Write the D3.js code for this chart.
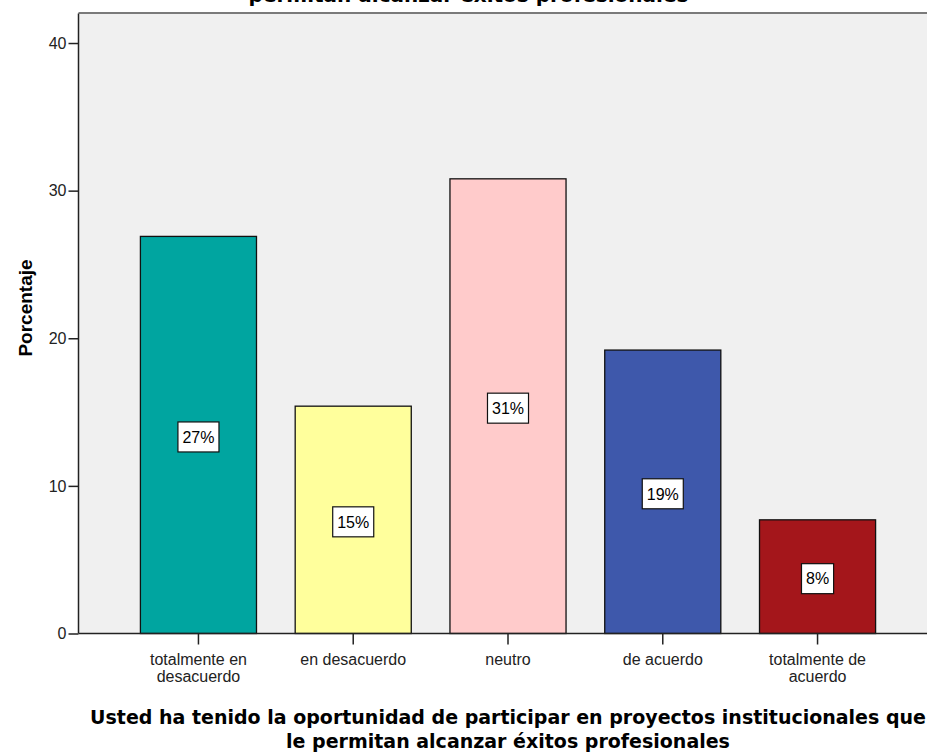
<!DOCTYPE html>
<html>
<head>
<meta charset="utf-8">
<script src="https://cdn.jsdelivr.net/npm/d3@7"></script>
<style>
  html, body { margin: 0; padding: 0; background: #ffffff; }
  svg { display: block; }
</style>
</head>
<body>
<div id="chart"></div>
<script>
// Response categories (x axis)
const categories = [
  "totalmente en desacuerdo",
  "en desacuerdo",
  "neutro",
  "de acuerdo",
  "totalmente de acuerdo"
];
// Category labels split onto lines as printed under each bar
const categoryLines = [
  ["totalmente en", "desacuerdo"],
  ["en desacuerdo"],
  ["neutro"],
  ["de acuerdo"],
  ["totalmente de", "acuerdo"]
];
// Percentage of respondents per category
const percentages = [26.9, 15.4, 30.8, 19.2, 7.7];
// Bar fill colours
const barColors = ["#00a5a0", "#ffff9c", "#ffcbcb", "#3e58ab", "#a4161b"];
// Y axis ticks
const yTicks = [0, 10, 20, 30, 40];

const titleText = "permitan alcanzar éxitos profesionales";
const xTitleLines = [
  "Usted ha tenido la oportunidad de participar en proyectos institucionales que",
  "le permitan alcanzar éxitos profesionales"
];
const yTitle = "Porcentaje";

const W = 927, H = 753;
const plot = { left: 78.5, right: 937.5, top: 13.5, bottom: 633.5 };

const svg = d3.select("#chart").append("svg")
  .attr("width", W).attr("height", H)
  .attr("viewBox", `0 0 ${W} ${H}`);

const x = d3.scaleBand()
  .domain(categories)
  .range([plot.left, plot.right])
  .paddingInner(0.25)
  .paddingOuter(0.4);

const y = d3.scaleLinear()
  .domain([0, 42])
  .range([plot.bottom, plot.top]);

// Plot background
svg.append("rect")
  .attr("x", plot.left).attr("y", plot.top)
  .attr("width", plot.right - plot.left)
  .attr("height", plot.bottom - plot.top)
  .attr("fill", "#f0f0f0");

// Frame top edge
svg.append("line")
  .attr("x1", plot.left).attr("x2", plot.right)
  .attr("y1", plot.top - 0.5).attr("y2", plot.top - 0.5)
  .attr("stroke", "#7a7a7a").attr("stroke-width", 2);

// Bars
svg.append("g").selectAll("rect")
  .data(categories)
  .join("rect")
  .attr("x", d => x(d))
  .attr("y", (d, i) => y(percentages[i]))
  .attr("width", x.bandwidth())
  .attr("height", (d, i) => y(0) - y(percentages[i]))
  .attr("fill", (d, i) => barColors[i])
  .attr("stroke", "#111")
  .attr("stroke-width", 1.3);

// Value labels in boxes
const fmt = v => d3.format(".0f")(v) + "%";
const labels = svg.append("g")
  .attr("font-family", "'Liberation Sans', Arial, sans-serif")
  .attr("font-size", 16)
  .selectAll("g")
  .data(categories)
  .join("g")
  .attr("transform", (d, i) => {
    const cx = x(d) + x.bandwidth() / 2;
    const cy = (y(percentages[i]) + y(0)) / 2 + 2;
    return `translate(${cx},${cy})`;
  });

labels.each(function(d, i) {
  const g = d3.select(this);
  const t = g.append("text")
    .attr("text-anchor", "middle")
    .attr("dy", "0.36em")
    .attr("fill", "#000")
    .text(fmt(percentages[i]));
  const w = t.node().getComputedTextLength() + 9;
  const h = 30;
  g.insert("rect", "text")
    .attr("x", -w / 2).attr("y", -h / 2)
    .attr("width", w).attr("height", h)
    .attr("fill", "#fff")
    .attr("stroke", "#111")
    .attr("stroke-width", 1.2);
});

// Y axis
const yAxis = svg.append("g")
  .attr("transform", `translate(${plot.left},0)`)
  .call(d3.axisLeft(y).tickValues(yTicks).tickSize(10).tickPadding(2).tickFormat(d3.format("d")));
yAxis.select(".domain").attr("stroke", "#222").attr("stroke-width", 1.5)
  .attr("d", `M0,${plot.top}V${plot.bottom}`);
yAxis.selectAll(".tick line").attr("stroke", "#222").attr("stroke-width", 1.5);
yAxis.selectAll(".tick text")
  .attr("font-family", "'Liberation Sans', Arial, sans-serif")
  .attr("font-size", 16).attr("fill", "#222");

// X axis
const xAxis = svg.append("g")
  .attr("transform", `translate(0,${plot.bottom})`)
  .call(d3.axisBottom(x).tickSize(11).tickFormat(""));
xAxis.select(".domain").attr("stroke", "#222").attr("stroke-width", 1.5)
  .attr("d", `M${plot.left},0H${plot.right}`);
xAxis.selectAll(".tick line").attr("stroke", "#222").attr("stroke-width", 1.5);

// Category labels
svg.append("g")
  .attr("font-family", "'Liberation Sans', Arial, sans-serif")
  .attr("font-size", 16)
  .attr("fill", "#222")
  .attr("text-anchor", "middle")
  .selectAll("text")
  .data(categories)
  .join("text")
  .attr("x", d => x(d) + x.bandwidth() / 2)
  .attr("y", plot.bottom + 31.5)
  .each(function(d, i) {
    d3.select(this).selectAll("tspan")
      .data(categoryLines[i])
      .join("tspan")
      .attr("x", x(d) + x.bandwidth() / 2)
      .attr("dy", (l, j) => j === 0 ? 0 : 17)
      .text(l => l);
  });

// X axis title
svg.append("text")
  .attr("font-family", "'DejaVu Sans', Verdana, sans-serif")
  .attr("font-weight", "bold")
  .attr("font-size", 19)
  .attr("fill", "#000")
  .attr("text-anchor", "middle")
  .selectAll("tspan")
  .data(xTitleLines)
  .join("tspan")
  .attr("x", (plot.left + plot.right) / 2)
  .attr("y", (d, i) => 723.5 + i * 24.5)
  .text(d => d);

// Y axis title
svg.append("text")
  .attr("font-family", "'Liberation Sans', Arial, sans-serif")
  .attr("font-weight", "bold")
  .attr("font-size", 19)
  .attr("fill", "#000")
  .attr("text-anchor", "middle")
  .attr("transform", "translate(31.5,308) rotate(-90)")
  .text(yTitle);

// Chart title (only its last line falls inside the canvas)
svg.append("text")
  .attr("font-family", "'DejaVu Sans', Verdana, sans-serif")
  .attr("font-weight", "bold")
  .attr("font-size", 20)
  .attr("fill", "#000")
  .attr("text-anchor", "middle")
  .attr("x", 468.5)
  .attr("y", 2)
  .text(titleText);
</script>
</body>
</html>
